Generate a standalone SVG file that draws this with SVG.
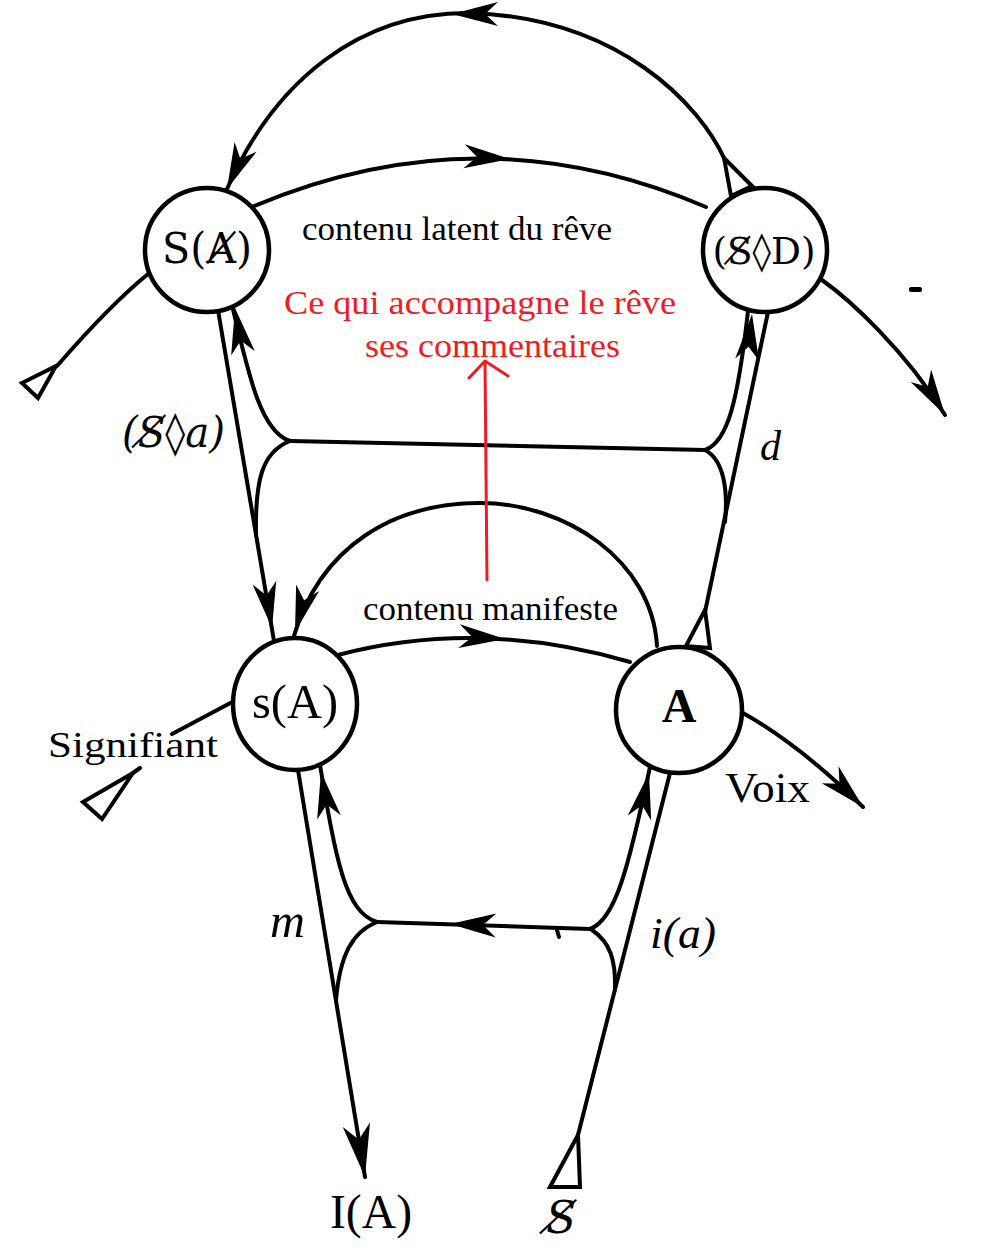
<svg xmlns="http://www.w3.org/2000/svg" width="988" height="1260" viewBox="0 0 988 1260">
<style>
.ln{fill:none;stroke:#000;stroke-width:4;stroke-linecap:round;stroke-linejoin:round}
.tri{fill:none;stroke:#000;stroke-width:4;stroke-linejoin:miter}
.nd{fill:#fff;stroke:#000;stroke-width:4.5}
.t{font-family:"Liberation Serif","DejaVu Serif",serif;fill:#000}
.dj{font-family:"DejaVu Serif","Liberation Serif",serif;fill:#000}
.it{font-style:italic}
.red{font-family:"Liberation Serif","DejaVu Serif",serif;fill:#ed1c24}
.rl{fill:none;stroke:#ed1c24;stroke-width:3;stroke-linecap:round;stroke-linejoin:round}
.ah{fill:#000}
</style>
<defs>
<path id="ah" d="M0,0 L-46,-12 L-33,0 L-46,12 Z"/>
</defs>
<rect width="988" height="1260" fill="#fff"/>

<g id="connectors">
  <!-- big top arc S◊D -> S(Ⱥ) -->
  <path class="ln" d="M725,160 C700,105 620,18 470,13 C360,12 275,80 227,189"/>
  <polygon class="tri" points="724,158 731,196 752,186"/>
  <use href="#ah" class="ah" transform="translate(227,189) rotate(113.8)"/>
  <use href="#ah" class="ah" transform="translate(452,14) rotate(180)"/>
  <!-- inner top arc -->
  <path class="ln" d="M252,207 Q480,110 706,207"/>
  <use href="#ah" class="ah" transform="translate(510,159) rotate(3.3)"/>
  <!-- S◊D outgoing -->
  <path class="ln" d="M822,280 C850,300 905,350 945,415"/>
  <use href="#ah" class="ah" transform="translate(945,415) rotate(58.4)"/>
  <!-- S(Ⱥ) tail lower left -->
  <path class="ln" d="M148,274 Q110,305 57,366"/>
  <polygon class="tri" points="22,383 56,366 38,398"/>
  <!-- S(Ⱥ) down to s(A) -->
  <path class="ln" d="M218,310 L274,641"/>
  <use href="#ah" class="ah" transform="translate(272,628) rotate(80.5)"/>
  <!-- upper left junction -->
  <path class="ln" d="M290,441 C262,432 250,382 232,305"/>
  <use href="#ah" class="ah" transform="translate(235,308) rotate(-100)"/>
  <path class="ln" d="M290,441 C262,452 255,480 256,535"/>
  <!-- upper horizontal -->
  <path class="ln" d="M290,441 L705,450"/>
  <!-- upper right junction -->
  <path class="ln" d="M705,450 C728,442 738,400 748,311"/>
  <use href="#ah" class="ah" transform="translate(752,314) rotate(-84)"/>
  <path class="ln" d="M705,450 C724,460 728,490 725,522"/>
  <!-- d line A -> S◊D -->
  <path class="ln" d="M768,312 L705,612"/>
  <polygon class="tri" points="686,646 705,610 710,648"/>
  <!-- manifest arc A -> s(A) -->
  <path class="ln" d="M657,646 C652,560 565,503 480,503 C395,503 320,545 293,639"/>
  <use href="#ah" class="ah" transform="translate(295,632) rotate(106)"/>
  <!-- inner lower arc -->
  <path class="ln" d="M338,655 Q480,618 630,662"/>
  <use href="#ah" class="ah" transform="translate(505,639) rotate(3.6)"/>
  <!-- Signifiant tail -->
  <path class="ln" d="M236,700 L172,734"/>
  <path class="ln" d="M140,768 L133,773"/>
  <polygon class="tri" points="83,802 133,773 102,819"/>
  <!-- Voix -->
  <path class="ln" d="M743,713 Q800,745 863,807"/>
  <use href="#ah" class="ah" transform="translate(863,807) rotate(44.5)"/>
  <!-- s(A) down to I(A) -->
  <path class="ln" d="M298,770 L365,1177"/>
  <use href="#ah" class="ah" transform="translate(365,1177) rotate(80.6) scale(1.15)"/>
  <!-- lower left junction -->
  <path class="ln" d="M377,922 C345,912 336,860 320,765"/>
  <use href="#ah" class="ah" transform="translate(321,772) rotate(-100)"/>
  <path class="ln" d="M377,922 C352,932 340,955 336,1000"/>
  <!-- lower horizontal -->
  <path class="ln" d="M377,922 L590,929"/>
  <use href="#ah" class="ah" transform="translate(450,924) rotate(181.9)"/>
  <path class="ln" d="M557,930 L559,937"/>
  <!-- lower right junction -->
  <path class="ln" d="M590,929 C615,920 628,870 650,767"/>
  <use href="#ah" class="ah" transform="translate(649,773) rotate(-78)"/>
  <path class="ln" d="M592,930 C610,942 616,960 615,990"/>
  <!-- $ up to A -->
  <path class="ln" d="M670,773 L578,1135"/>
  <polygon class="tri" points="550,1187 578,1135 580,1187"/>
  <!-- stray mark -->
  <rect x="909" y="287" width="13" height="5" rx="2" fill="#000"/>
  <!-- red arrow -->
  <path class="rl" d="M487,580 L485,362"/>
  <path class="rl" d="M469,378 L485,361 L508,376"/>
</g>

<g id="node-S-A-barre">
  <circle class="nd" cx="207" cy="250" r="62"/>
  <text class="dj" x="207" y="263" font-size="42" text-anchor="middle" textLength="90" lengthAdjust="spacingAndGlyphs">S(Ⱥ)</text>
</g>
<g id="node-S-D">
  <circle class="nd" cx="765" cy="250" r="62"/>
  <text class="dj" x="764" y="264" font-size="38" text-anchor="middle" textLength="103" lengthAdjust="spacingAndGlyphs">(S̸◊D)</text>
</g>
<g id="node-s-A">
  <ellipse class="nd" cx="295" cy="704" rx="62" ry="66"/>
  <text class="t" x="295" y="718" font-size="48" text-anchor="middle" textLength="86" lengthAdjust="spacingAndGlyphs">s(A)</text>
</g>
<g id="node-A">
  <circle class="nd" cx="679" cy="710" r="63"/>
  <text class="t" x="679" y="722" font-size="48" font-weight="bold" text-anchor="middle">A</text>
</g>

<g id="labels">
  <text class="t" x="302" y="240" font-size="34" textLength="310" lengthAdjust="spacingAndGlyphs">contenu latent du rêve</text>
  <text class="t" x="363" y="620" font-size="34" textLength="255" lengthAdjust="spacingAndGlyphs">contenu manifeste</text>
  <text class="red" x="284" y="314" font-size="34" textLength="392" lengthAdjust="spacingAndGlyphs">Ce qui accompagne le rêve</text>
  <text class="red" x="365" y="357" font-size="34" textLength="255" lengthAdjust="spacingAndGlyphs">ses commentaires</text>
  <text class="dj it" x="122" y="447" font-size="42" textLength="103" lengthAdjust="spacingAndGlyphs">(S̸◊a)</text>
  <text class="t it" x="760" y="460" font-size="42">d</text>
  <text class="t" x="48" y="757" font-size="36" textLength="170" lengthAdjust="spacingAndGlyphs">Signifiant</text>
  <text class="t" x="725" y="802" font-size="42" textLength="85" lengthAdjust="spacingAndGlyphs">Voix</text>
  <text class="t it" x="270" y="937" font-size="48" textLength="35" lengthAdjust="spacingAndGlyphs">m</text>
  <text class="t it" x="650" y="948" font-size="44" textLength="66" lengthAdjust="spacingAndGlyphs">i(a)</text>
  <text class="t" x="330" y="1228" font-size="48" textLength="82" lengthAdjust="spacingAndGlyphs">I(A)</text>
  <text class="dj it" x="561" y="1233" font-size="44" text-anchor="middle">S̸</text>
</g>
</svg>
